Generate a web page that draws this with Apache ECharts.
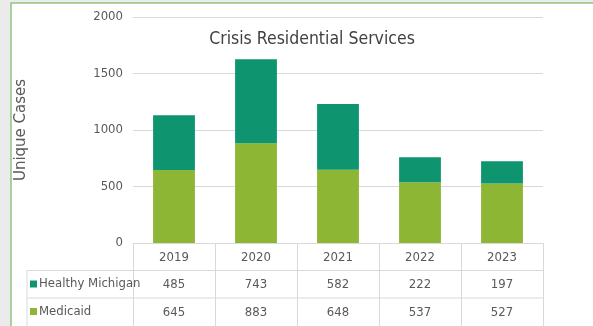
<!DOCTYPE html>
<html>
<head>
<meta charset="utf-8">
<script src="https://cdn.jsdelivr.net/npm/echarts@6/dist/echarts.min.js"></script>
<style>
html,body{margin:0;padding:0;background:#ebebeb;}
#chart{width:593px;height:326px;}
</style>
</head>
<body>
<div id="chart"></div>
<script>
const years = ['2019', '2020', '2021', '2022', '2023'];
const healthyMichigan = [485, 743, 582, 222, 197];
const medicaid = [645, 883, 648, 537, 527];
const yTicks = [0, 500, 1000, 1500, 2000];

const NARROW = '"DejaVu Sans Condensed", sans-serif';
const TXT = '#595959';
const LINE = '#d9d9d9';
const G = { left: 133, right: 50, top: 17, bottom: 83 };
const W = 593, H = 326;
const gridBottomY = H - G.bottom;
const rowH = 27.5;

const legendBase = {
  orient: 'vertical', left: 30, padding: 0,
  itemWidth: 7, itemHeight: 7, icon: 'rect',
  textStyle: { fontFamily: NARROW, fontSize: 13, color: TXT, padding: [0, 0, 0, -3] }
};

const chart = echarts.init(document.getElementById('chart'));
chart.setOption({
  backgroundColor: '#ebebeb',
  animation: false,
  title: {
    text: 'Crisis Residential Services',
    left: 307, top: 25, textAlign: 'center',
    textStyle: { fontFamily: NARROW, fontSize: 17.5, fontWeight: 'normal', color: '#404040' }
  },
  graphic: [
    { type: 'rect', z: -10, shape: { x: 11, y: 3, width: W, height: H }, style: { fill: '#fff', stroke: '#8fc680', lineWidth: 1.5 } },
    { type: 'line', shape: { x1: 27, y1: gridBottomY + rowH, x2: W - G.right, y2: gridBottomY + rowH }, style: { stroke: LINE, lineWidth: 1 } },
    { type: 'line', shape: { x1: 27, y1: gridBottomY + rowH * 2, x2: W - G.right, y2: gridBottomY + rowH * 2 }, style: { stroke: LINE, lineWidth: 1 } },
    { type: 'line', shape: { x1: 27, y1: gridBottomY + rowH, x2: 27, y2: H }, style: { stroke: LINE, lineWidth: 1 } }
  ],
  legend: [
    Object.assign({}, legendBase, { data: ['Healthy Michigan'], top: gridBottomY + rowH + 7 }),
    Object.assign({}, legendBase, { data: ['Medicaid'], top: gridBottomY + rowH * 2 + 7 })
  ],
  grid: { left: G.left, right: G.right, top: G.top, bottom: G.bottom, containLabel: false },
  xAxis: [
    {
      type: 'category', data: years, position: 'bottom',
      axisLine: { show: true, lineStyle: { color: LINE } },
      axisTick: { show: true, interval: 0, length: G.bottom, lineStyle: { color: LINE } },
      axisLabel: { margin: 8, fontFamily: NARROW, fontSize: 13, color: TXT }
    },
    {
      type: 'category', data: years, position: 'bottom', offset: rowH,
      axisLine: { show: false }, axisTick: { show: false },
      axisLabel: { margin: 8, fontFamily: NARROW, fontSize: 13, color: TXT, formatter: (v, i) => String(healthyMichigan[i]) }
    },
    {
      type: 'category', data: years, position: 'bottom', offset: rowH * 2,
      axisLine: { show: false }, axisTick: { show: false },
      axisLabel: { margin: 8, fontFamily: NARROW, fontSize: 13, color: TXT, formatter: (v, i) => String(medicaid[i]) }
    }
  ],
  yAxis: {
    type: 'value', min: yTicks[0], max: yTicks[yTicks.length - 1], interval: 500,
    name: 'Unique Cases', nameLocation: 'middle', nameGap: 104, nameRotate: 90,
    nameTextStyle: { fontFamily: 'DejaVu Sans', fontSize: 15, color: TXT },
    axisLine: { show: false }, axisTick: { show: false },
    splitLine: { lineStyle: { color: LINE } },
    axisLabel: { margin: 10, fontFamily: NARROW, fontSize: 13, color: TXT, formatter: v => String(v) }
  },
  series: [
    { name: 'Medicaid', type: 'bar', stack: 'a', data: medicaid, barWidth: '51%', itemStyle: { color: '#8cb634' } },
    { name: 'Healthy Michigan', type: 'bar', stack: 'a', data: healthyMichigan, barWidth: '51%', itemStyle: { color: '#0f9470' } }
  ]
});
</script>
</body>
</html>
